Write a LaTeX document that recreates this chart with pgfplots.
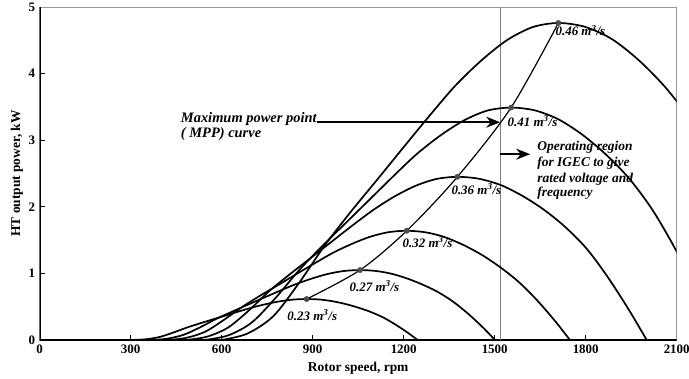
\documentclass[border=0pt]{standalone}
\usepackage{pgfplots}
\pgfplotsset{compat=1.18}
\usepackage{fontspec}
\setmainfont{Liberation Serif}
\usetikzlibrary{arrows.meta}
\begin{document}
\begin{tikzpicture}
\path[use as bounding box] (-39.7bp,-39bp) rectangle (649.3bp,340bp);
\begin{axis}[
  at={(0,0)}, anchor=south west,
  width=637bp, height=333bp, scale only axis,
  xmin=0, xmax=2100, ymin=0, ymax=5,
  xtick={0,300,...,2100}, ytick={0,1,...,5},
  tick pos=left, tick align=inside,
  major tick length=5bp,
  every tick/.style={black, line width=0.8bp},
  axis line style={draw=gray!80, line width=0.7bp},
  /pgf/number format/assume math mode=true,
  /pgf/number format/1000 sep={},
  ticklabel style={font=\fontsize{13}{15}\selectfont\bfseries},
  xticklabel style={yshift=-1bp},
  yticklabel style={xshift=-1bp},
  xlabel={Rotor speed, rpm},
  ylabel={HT output power, kW},
  xlabel style={font=\fontsize{13.5}{15}\selectfont\bfseries, at={(axis description cs:0.5,0)}, anchor=center, yshift=-28bp},
  ylabel style={font=\fontsize{13.5}{15}\selectfont\bfseries, at={(axis description cs:-0.036,0.5)}, anchor=center},
  clip=true,
]
\draw[black, line width=1.8bp] (rel axis cs:0,1) -- (rel axis cs:0,0) -- (rel axis cs:1,0);
% vertical operating limit
\addplot[gray, line width=0.9bp] coordinates {(1520,0) (1520,5)};
% 0.23 m3/s
\addplot[black, line width=1.7bp, smooth] coordinates {
(308,0) (352,0.012) (396,0.046) (440,0.111) (484,0.185) (528,0.249) (572,0.311) (616,0.372) (660,0.434) (704,0.492) (748,0.541) (792,0.581) (836,0.607) (880,0.615)
(922,0.608) (963,0.584) (1005,0.544) (1046,0.492) (1088,0.427) (1130,0.344) (1171,0.237) (1213,0.111) (1246,0)};
% 0.27
\addplot[black, line width=1.7bp, smooth] coordinates {
(370,0) (422,0.021) (475,0.079) (528,0.189) (581,0.315) (634,0.425) (686,0.530) (739,0.635) (792,0.740) (845,0.840) (898,0.924) (950,0.992) (1003,1.036) (1056,1.05)
(1107,1.037) (1157,0.998) (1208,0.929) (1258,0.840) (1309,0.730) (1359,0.588) (1410,0.404) (1461,0.189) (1501,0)};
% 0.32
\addplot[black, line width=1.7bp, smooth] coordinates {
(424,0) (484,0.033) (545,0.123) (605,0.295) (666,0.492) (726,0.664) (787,0.828) (847,0.992) (908,1.156) (968,1.312) (1029,1.443) (1089,1.550) (1150,1.619) (1210,1.64)
(1271,1.618) (1332,1.550) (1393,1.435) (1455,1.285) (1516,1.100) (1577,0.880) (1638,0.605) (1699,0.285) (1748,0)};
% 0.36
\addplot[black, line width=1.7bp, smooth] coordinates {
(482,0) (551,0.049) (620,0.184) (689,0.441) (757,0.735) (826,0.992) (895,1.237) (964,1.482) (1033,1.727) (1102,1.960) (1170,2.156) (1239,2.315) (1308,2.418) (1377,2.45)
(1448,2.421) (1519,2.328) (1590,2.168) (1661,1.960) (1731,1.703) (1803,1.372) (1873,0.943) (1944,0.441) (2001,0)};
% 0.41
\addplot[black, line width=1.7bp, smooth] coordinates {
(544,0) (622,0.070) (699,0.262) (777,0.628) (855,1.047) (932,1.413) (1010,1.762) (1088,2.111) (1166,2.460) (1243,2.792) (1321,3.071) (1399,3.298) (1476,3.445) (1554,3.49)
(1632,3.448) (1709,3.316) (1787,3.089) (1865,2.792) (1943,2.426) (2020,1.954) (2098,1.344) (2176,0.628)};
% 0.46
\addplot[black, line width=1.7bp, smooth] coordinates {
(599,0) (684,0.095) (770,0.357) (855,0.857) (941,1.428) (1026,1.928) (1112,2.404) (1197,2.880) (1283,3.356) (1368,3.808) (1454,4.189) (1539,4.498) (1625,4.698) (1710,4.76)
(1797,4.703) (1885,4.522) (1972,4.213) (2060,3.808) (2148,3.308)};
% MPP curve
\addplot[black, line width=1.2bp, smooth, mark=*, mark size=2.3bp, mark options={fill=black!70, draw=black!70}] coordinates {
(880,0.615) (1056,1.05) (1210,1.64) (1377,2.45) (1554,3.49) (1710,4.76)};
% flow labels
\begin{scope}[every node/.style={font=\fontsize{13}{15}\selectfont\bfseries\itshape, inner sep=0pt, anchor=west}]
\node at (axis cs:1700,4.65) {0.46 m\textsuperscript{3}/s};
\node at (axis cs:1542,3.285) {0.41 m\textsuperscript{3}/s};
\node at (axis cs:1357,2.265) {0.36 m\textsuperscript{3}/s};
\node at (axis cs:1196,1.47) {0.32 m\textsuperscript{3}/s};
\node at (axis cs:1021,0.81) {0.27 m\textsuperscript{3}/s};
\node at (axis cs:816,0.375) {0.23 m\textsuperscript{3}/s};
\end{scope}
% annotations
\begin{scope}[every node/.style={font=\fontsize{14.5}{16}\selectfont\bfseries\itshape, inner sep=0pt, anchor=base west}]
\node at (axis cs:465,3.26) {Maximum power point};
\node at (axis cs:465,3.04) {( MPP) curve};
\end{scope}
\begin{scope}[every node/.style={font=\fontsize{13.5}{16}\selectfont\bfseries\itshape, inner sep=0pt, anchor=base west}]
\node at (axis cs:1640,2.85) {Operating region};
\node at (axis cs:1640,2.60) {for IGEC to give};
\node at (axis cs:1640,2.36) {rated voltage and};
\node at (axis cs:1640,2.15) {frequency};
\end{scope}
\draw[line width=1.6bp, -{Stealth[length=14bp,width=11bp]}] (axis cs:915,3.27) -- (axis cs:1518,3.27);
\draw[line width=1.6bp, -{Stealth[length=14bp,width=11bp]}] (axis cs:1518,2.79) -- (axis cs:1617,2.79);
\end{axis}
\end{tikzpicture}
\end{document}
